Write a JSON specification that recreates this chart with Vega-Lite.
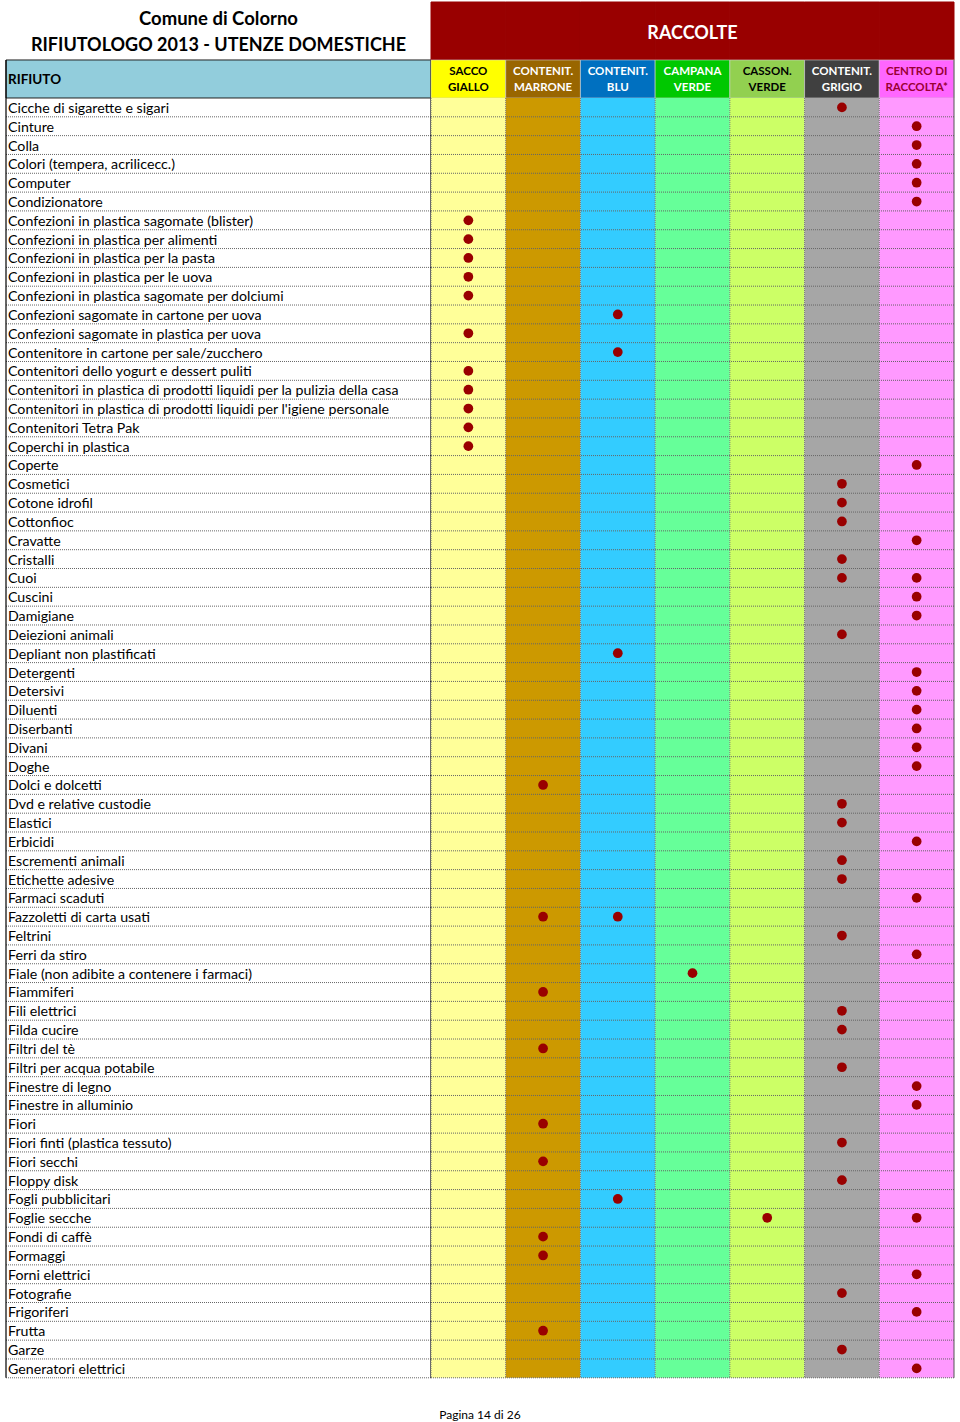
{
  "$schema": "https://vega.github.io/schema/vega-lite/v6.json",
  "padding": {"left": 5, "right": 7, "top": 0, "bottom": 0},
  "spacing": 0,
  "bounds": "flush",
  "background": "white",
  "config": {"view": {"stroke": null}, "font": "Lato"},
  "title": {"text": "Pagina 14 di 26", "orient": "bottom", "anchor": "middle", "frame": "bounds", "fontSize": 12, "fontWeight": "normal", "font": "Lato", "color": "#000", "offset": 26},
  "datasets": {
    "cols": [
      {"raccolta": "SACCO GIALLO", "righe": ["SACCO", "GIALLO"]},
      {"raccolta": "CONTENIT. MARRONE", "righe": ["CONTENIT.", "MARRONE"]},
      {"raccolta": "CONTENIT. BLU", "righe": ["CONTENIT.", "BLU"]},
      {"raccolta": "CAMPANA VERDE", "righe": ["CAMPANA", "VERDE"]},
      {"raccolta": "CASSON. VERDE", "righe": ["CASSON.", "VERDE"]},
      {"raccolta": "CONTENIT. GRIGIO", "righe": ["CONTENIT.", "GRIGIO"]},
      {"raccolta": "CENTRO DI RACCOLTA*", "righe": ["CENTRO DI", "RACCOLTA*"]}
    ],
    "items": [
      {"n": 1, "rifiuto": "Cicche di sigarette e sigari", "raccolte": ["CONTENIT. GRIGIO"]},
      {"n": 2, "rifiuto": "Cinture", "raccolte": ["CENTRO DI RACCOLTA*"]},
      {"n": 3, "rifiuto": "Colla", "raccolte": ["CENTRO DI RACCOLTA*"]},
      {"n": 4, "rifiuto": "Colori (tempera, acrilicecc.)", "raccolte": ["CENTRO DI RACCOLTA*"]},
      {"n": 5, "rifiuto": "Computer", "raccolte": ["CENTRO DI RACCOLTA*"]},
      {"n": 6, "rifiuto": "Condizionatore", "raccolte": ["CENTRO DI RACCOLTA*"]},
      {"n": 7, "rifiuto": "Confezioni in plastica sagomate (blister)", "raccolte": ["SACCO GIALLO"]},
      {"n": 8, "rifiuto": "Confezioni in plastica per alimenti", "raccolte": ["SACCO GIALLO"]},
      {"n": 9, "rifiuto": "Confezioni in plastica per la pasta", "raccolte": ["SACCO GIALLO"]},
      {"n": 10, "rifiuto": "Confezioni in plastica per le uova", "raccolte": ["SACCO GIALLO"]},
      {"n": 11, "rifiuto": "Confezioni in plastica sagomate per dolciumi", "raccolte": ["SACCO GIALLO"]},
      {"n": 12, "rifiuto": "Confezioni sagomate in cartone per uova", "raccolte": ["CONTENIT. BLU"]},
      {"n": 13, "rifiuto": "Confezioni sagomate in plastica per uova", "raccolte": ["SACCO GIALLO"]},
      {"n": 14, "rifiuto": "Contenitore in cartone per sale/zucchero", "raccolte": ["CONTENIT. BLU"]},
      {"n": 15, "rifiuto": "Contenitori dello yogurt e dessert puliti", "raccolte": ["SACCO GIALLO"]},
      {"n": 16, "rifiuto": "Contenitori in plastica di prodotti liquidi per la pulizia della casa", "raccolte": ["SACCO GIALLO"]},
      {"n": 17, "rifiuto": "Contenitori in plastica di prodotti liquidi per l'igiene personale", "raccolte": ["SACCO GIALLO"]},
      {"n": 18, "rifiuto": "Contenitori Tetra Pak", "raccolte": ["SACCO GIALLO"]},
      {"n": 19, "rifiuto": "Coperchi in plastica", "raccolte": ["SACCO GIALLO"]},
      {"n": 20, "rifiuto": "Coperte", "raccolte": ["CENTRO DI RACCOLTA*"]},
      {"n": 21, "rifiuto": "Cosmetici", "raccolte": ["CONTENIT. GRIGIO"]},
      {"n": 22, "rifiuto": "Cotone idrofil", "raccolte": ["CONTENIT. GRIGIO"]},
      {"n": 23, "rifiuto": "Cottonfioc", "raccolte": ["CONTENIT. GRIGIO"]},
      {"n": 24, "rifiuto": "Cravatte", "raccolte": ["CENTRO DI RACCOLTA*"]},
      {"n": 25, "rifiuto": "Cristalli", "raccolte": ["CONTENIT. GRIGIO"]},
      {"n": 26, "rifiuto": "Cuoi", "raccolte": ["CONTENIT. GRIGIO", "CENTRO DI RACCOLTA*"]},
      {"n": 27, "rifiuto": "Cuscini", "raccolte": ["CENTRO DI RACCOLTA*"]},
      {"n": 28, "rifiuto": "Damigiane", "raccolte": ["CENTRO DI RACCOLTA*"]},
      {"n": 29, "rifiuto": "Deiezioni animali", "raccolte": ["CONTENIT. GRIGIO"]},
      {"n": 30, "rifiuto": "Depliant non plastificati", "raccolte": ["CONTENIT. BLU"]},
      {"n": 31, "rifiuto": "Detergenti", "raccolte": ["CENTRO DI RACCOLTA*"]},
      {"n": 32, "rifiuto": "Detersivi", "raccolte": ["CENTRO DI RACCOLTA*"]},
      {"n": 33, "rifiuto": "Diluenti", "raccolte": ["CENTRO DI RACCOLTA*"]},
      {"n": 34, "rifiuto": "Diserbanti", "raccolte": ["CENTRO DI RACCOLTA*"]},
      {"n": 35, "rifiuto": "Divani", "raccolte": ["CENTRO DI RACCOLTA*"]},
      {"n": 36, "rifiuto": "Doghe", "raccolte": ["CENTRO DI RACCOLTA*"]},
      {"n": 37, "rifiuto": "Dolci e dolcetti", "raccolte": ["CONTENIT. MARRONE"]},
      {"n": 38, "rifiuto": "Dvd e relative custodie", "raccolte": ["CONTENIT. GRIGIO"]},
      {"n": 39, "rifiuto": "Elastici", "raccolte": ["CONTENIT. GRIGIO"]},
      {"n": 40, "rifiuto": "Erbicidi", "raccolte": ["CENTRO DI RACCOLTA*"]},
      {"n": 41, "rifiuto": "Escrementi animali", "raccolte": ["CONTENIT. GRIGIO"]},
      {"n": 42, "rifiuto": "Etichette adesive", "raccolte": ["CONTENIT. GRIGIO"]},
      {"n": 43, "rifiuto": "Farmaci scaduti", "raccolte": ["CENTRO DI RACCOLTA*"]},
      {"n": 44, "rifiuto": "Fazzoletti di carta usati", "raccolte": ["CONTENIT. MARRONE", "CONTENIT. BLU"]},
      {"n": 45, "rifiuto": "Feltrini", "raccolte": ["CONTENIT. GRIGIO"]},
      {"n": 46, "rifiuto": "Ferri da stiro", "raccolte": ["CENTRO DI RACCOLTA*"]},
      {"n": 47, "rifiuto": "Fiale (non adibite a contenere i farmaci)", "raccolte": ["CAMPANA VERDE"]},
      {"n": 48, "rifiuto": "Fiammiferi", "raccolte": ["CONTENIT. MARRONE"]},
      {"n": 49, "rifiuto": "Fili elettrici", "raccolte": ["CONTENIT. GRIGIO"]},
      {"n": 50, "rifiuto": "Filda cucire", "raccolte": ["CONTENIT. GRIGIO"]},
      {"n": 51, "rifiuto": "Filtri del tè", "raccolte": ["CONTENIT. MARRONE"]},
      {"n": 52, "rifiuto": "Filtri per acqua potabile", "raccolte": ["CONTENIT. GRIGIO"]},
      {"n": 53, "rifiuto": "Finestre di legno", "raccolte": ["CENTRO DI RACCOLTA*"]},
      {"n": 54, "rifiuto": "Finestre in alluminio", "raccolte": ["CENTRO DI RACCOLTA*"]},
      {"n": 55, "rifiuto": "Fiori", "raccolte": ["CONTENIT. MARRONE"]},
      {"n": 56, "rifiuto": "Fiori finti (plastica tessuto)", "raccolte": ["CONTENIT. GRIGIO"]},
      {"n": 57, "rifiuto": "Fiori secchi", "raccolte": ["CONTENIT. MARRONE"]},
      {"n": 58, "rifiuto": "Floppy disk", "raccolte": ["CONTENIT. GRIGIO"]},
      {"n": 59, "rifiuto": "Fogli pubblicitari", "raccolte": ["CONTENIT. BLU"]},
      {"n": 60, "rifiuto": "Foglie secche", "raccolte": ["CASSON. VERDE", "CENTRO DI RACCOLTA*"]},
      {"n": 61, "rifiuto": "Fondi di caffè", "raccolte": ["CONTENIT. MARRONE"]},
      {"n": 62, "rifiuto": "Formaggi", "raccolte": ["CONTENIT. MARRONE"]},
      {"n": 63, "rifiuto": "Forni elettrici", "raccolte": ["CENTRO DI RACCOLTA*"]},
      {"n": 64, "rifiuto": "Fotografie", "raccolte": ["CONTENIT. GRIGIO"]},
      {"n": 65, "rifiuto": "Frigoriferi", "raccolte": ["CENTRO DI RACCOLTA*"]},
      {"n": 66, "rifiuto": "Frutta", "raccolte": ["CONTENIT. MARRONE"]},
      {"n": 67, "rifiuto": "Garze", "raccolte": ["CONTENIT. GRIGIO"]},
      {"n": 68, "rifiuto": "Generatori elettrici", "raccolte": ["CENTRO DI RACCOLTA*"]}
    ]
  },
  "hconcat": [
    {
      "width": 425,
      "height": 1384,
      "encoding": {
        "x": {"datum": "RIFIUTO", "type": "nominal", "scale": {"type": "band", "domain": ["RIFIUTO"], "paddingInner": 0, "paddingOuter": 0}, "axis": null}
      },
      "layer": [
        {
          "data": {"values": [{"cella": "RIFIUTO"}]},
          "mark": {"type": "rect", "fill": "#92CDDC", "stroke": "#222222", "strokeWidth": 1},
          "encoding": {
            "y": {"datum": -1.52, "type": "quantitative", "scale": {"domain": [-4.707, 68.83], "reverse": true, "zero": false, "nice": false}, "axis": null},
            "y2": {"datum": 0.5}
          }
        },
        {
          "data": {"values": [{"cella": "RIFIUTO"}]},
          "mark": {"type": "text", "align": "left", "baseline": "middle", "dx": 2, "dy": 1, "fontSize": 13.5, "fontWeight": "bold", "color": "#000000"},
          "encoding": {
            "x": {"datum": "RIFIUTO", "type": "nominal", "bandPosition": 0, "scale": {"type": "band", "domain": ["RIFIUTO"], "paddingInner": 0, "paddingOuter": 0}, "axis": null},
            "y": {"datum": -0.51, "type": "quantitative", "scale": {"domain": [-4.707, 68.83], "reverse": true, "zero": false, "nice": false}, "axis": null},
            "text": {"field": "cella"}
          }
        },
        {
          "data": {"values": [{"riga": "Comune di Colorno"}]},
          "mark": {"type": "text", "align": "center", "baseline": "middle", "dy": 1, "fontSize": 18.5, "fontWeight": "bold", "color": "#000000"},
          "encoding": {
            "y": {"datum": -3.75, "type": "quantitative", "scale": {"domain": [-4.707, 68.83], "reverse": true, "zero": false, "nice": false}, "axis": null},
            "text": {"field": "riga"}
          }
        },
        {
          "data": {"values": [{"riga": "RIFIUTOLOGO 2013  - UTENZE DOMESTICHE"}]},
          "mark": {"type": "text", "align": "center", "baseline": "middle", "dy": 1, "fontSize": 18, "fontWeight": "bold", "color": "#000000"},
          "encoding": {
            "y": {"datum": -2.32, "type": "quantitative", "scale": {"domain": [-4.707, 68.83], "reverse": true, "zero": false, "nice": false}, "axis": null},
            "text": {"field": "riga"}
          }
        },
        {
          "data": {"name": "items"},
          "mark": {"type": "rule", "color": "#666666", "strokeDash": [1, 1], "strokeWidth": 1, "yOffset": 9.41},
          "encoding": {
            "x": null,
            "y": {"field": "n", "type": "quantitative", "scale": {"domain": [-4.707, 68.83], "reverse": true, "zero": false, "nice": false}, "axis": null}
          }
        },
        {
          "data": {"name": "items"},
          "mark": {"type": "text", "align": "left", "baseline": "middle", "dx": 2, "dy": 1.5, "fontSize": 14.2, "color": "#000000"},
          "encoding": {
            "x": {"datum": "RIFIUTO", "type": "nominal", "bandPosition": 0, "scale": {"type": "band", "domain": ["RIFIUTO"], "paddingInner": 0, "paddingOuter": 0}, "axis": null},
            "y": {"field": "n", "type": "quantitative", "scale": {"domain": [-4.707, 68.83], "reverse": true, "zero": false, "nice": false}, "axis": null},
            "text": {"field": "rifiuto"}
          }
        },
        {
          "data": {"values": [{"bordo": "sinistro"}]},
          "mark": {"type": "rule", "color": "#000000", "strokeWidth": 1.2},
          "encoding": {
            "x": {"datum": "RIFIUTO", "type": "nominal", "bandPosition": 0, "scale": {"type": "band", "domain": ["RIFIUTO"], "paddingInner": 0, "paddingOuter": 0}, "axis": null},
            "y": {"datum": -1.52, "type": "quantitative", "scale": {"domain": [-4.707, 68.83], "reverse": true, "zero": false, "nice": false}, "axis": null},
            "y2": {"datum": 68.5}
          }
        },
        {
          "data": {"values": [{"bordo": "destro"}]},
          "mark": {"type": "rule", "color": "#000000", "strokeWidth": 1.2},
          "encoding": {
            "x": {"datum": "RIFIUTO", "type": "nominal", "bandPosition": 1, "scale": {"type": "band", "domain": ["RIFIUTO"], "paddingInner": 0, "paddingOuter": 0}, "axis": null},
            "y": {"datum": -1.52, "type": "quantitative", "scale": {"domain": [-4.707, 68.83], "reverse": true, "zero": false, "nice": false}, "axis": null},
            "y2": {"datum": 68.5}
          }
        }
      ]
    },
    {
      "width": 523,
      "height": 1384,
      "encoding": {
        "x": {"field": "raccolta", "type": "nominal", "scale": {"type": "band", "domain": ["SACCO GIALLO", "CONTENIT. MARRONE", "CONTENIT. BLU", "CAMPANA VERDE", "CASSON. VERDE", "CONTENIT. GRIGIO", "CENTRO DI RACCOLTA*"], "paddingInner": 0, "paddingOuter": 0}, "axis": null}
      },
      "layer": [
        {
          "data": {"name": "cols"},
          "mark": {"type": "rect", "fill": "#990000", "stroke": "#990000", "strokeWidth": 1},
          "encoding": {
            "y": {"datum": -4.6, "type": "quantitative", "scale": {"domain": [-4.707, 68.83], "reverse": true, "zero": false, "nice": false}, "axis": null},
            "y2": {"datum": -1.52}
          }
        },
        {
          "data": {"values": [{"testo": "RACCOLTE"}]},
          "mark": {"type": "text", "align": "center", "baseline": "middle", "dy": 1, "fontSize": 18, "fontWeight": "bold", "color": "#FFFFFF"},
          "encoding": {
            "x": {"datum": "CAMPANA VERDE", "type": "nominal", "scale": {"type": "band", "domain": ["SACCO GIALLO", "CONTENIT. MARRONE", "CONTENIT. BLU", "CAMPANA VERDE", "CASSON. VERDE", "CONTENIT. GRIGIO", "CENTRO DI RACCOLTA*"], "paddingInner": 0, "paddingOuter": 0}, "axis": null},
            "y": {"datum": -2.98, "type": "quantitative", "scale": {"domain": [-4.707, 68.83], "reverse": true, "zero": false, "nice": false}, "axis": null},
            "text": {"field": "testo"}
          }
        },
        {
          "data": {"name": "cols"},
          "mark": {"type": "rect", "stroke": "#D0D0D0", "strokeWidth": 0.6},
          "encoding": {
            "y": {"datum": -1.52, "type": "quantitative", "scale": {"domain": [-4.707, 68.83], "reverse": true, "zero": false, "nice": false}, "axis": null},
            "y2": {"datum": 0.5},
            "color": {"field": "raccolta", "type": "nominal", "legend": null,
              "scale": {"domain": ["SACCO GIALLO", "CONTENIT. MARRONE", "CONTENIT. BLU", "CAMPANA VERDE", "CASSON. VERDE", "CONTENIT. GRIGIO", "CENTRO DI RACCOLTA*"], "range": ["#FFFF00", "#996600", "#0070C0", "#00C800", "#92D050", "#404040", "#FF66FF"]}}
          }
        },
        {
          "data": {"name": "cols"},
          "mark": {"type": "rect"},
          "encoding": {
            "y": {"datum": 0.5, "type": "quantitative", "scale": {"domain": [-4.707, 68.83], "reverse": true, "zero": false, "nice": false}, "axis": null},
            "y2": {"datum": 68.5},
            "color": {"field": "raccolta", "type": "nominal", "legend": null,
              "scale": {"domain": ["SACCO GIALLO", "CONTENIT. MARRONE", "CONTENIT. BLU", "CAMPANA VERDE", "CASSON. VERDE", "CONTENIT. GRIGIO", "CENTRO DI RACCOLTA*"], "range": ["#FFFF99", "#CC9900", "#33CCFF", "#66FF99", "#CCFF66", "#A6A6A6", "#FF99FF"]}}
          }
        },
        {
          "data": {"name": "cols"},
          "mark": {"type": "text", "align": "center", "baseline": "middle", "dy": 1, "fontSize": 11.5, "fontWeight": "bold", "lineHeight": 16.5},
          "encoding": {
            "y": {"datum": -0.935, "type": "quantitative", "scale": {"domain": [-4.707, 68.83], "reverse": true, "zero": false, "nice": false}, "axis": null},
            "text": {"field": "righe"},
            "color": {"field": "raccolta", "type": "nominal", "legend": null,
              "scale": {"domain": ["SACCO GIALLO", "CONTENIT. MARRONE", "CONTENIT. BLU", "CAMPANA VERDE", "CASSON. VERDE", "CONTENIT. GRIGIO", "CENTRO DI RACCOLTA*"], "range": ["#000000", "#FFFFFF", "#FFFFFF", "#FFFFFF", "#000000", "#FFFFFF", "#990033"]}}
          }
        },
        {
          "data": {"name": "cols"},
          "mark": {"type": "rule", "color": "#777777", "strokeDash": [1, 1], "strokeWidth": 1},
          "encoding": {
            "x": {"field": "raccolta", "type": "nominal", "bandPosition": 0, "scale": {"type": "band", "domain": ["SACCO GIALLO", "CONTENIT. MARRONE", "CONTENIT. BLU", "CAMPANA VERDE", "CASSON. VERDE", "CONTENIT. GRIGIO", "CENTRO DI RACCOLTA*"], "paddingInner": 0, "paddingOuter": 0}, "axis": null},
            "y": {"datum": 0.5, "type": "quantitative", "scale": {"domain": [-4.707, 68.83], "reverse": true, "zero": false, "nice": false}, "axis": null},
            "y2": {"datum": 68.5}
          }
        },
        {
          "data": {"name": "items"},
          "mark": {"type": "rule", "color": "#666666", "strokeDash": [1, 1], "strokeWidth": 1, "yOffset": 9.41},
          "encoding": {
            "x": null,
            "y": {"field": "n", "type": "quantitative", "scale": {"domain": [-4.707, 68.83], "reverse": true, "zero": false, "nice": false}, "axis": null}
          }
        },
        {
          "data": {"values": [{"raccolta": "CENTRO DI RACCOLTA*"}]},
          "mark": {"type": "rule", "color": "#555555", "strokeWidth": 1},
          "encoding": {
            "x": {"field": "raccolta", "type": "nominal", "bandPosition": 1, "scale": {"type": "band", "domain": ["SACCO GIALLO", "CONTENIT. MARRONE", "CONTENIT. BLU", "CAMPANA VERDE", "CASSON. VERDE", "CONTENIT. GRIGIO", "CENTRO DI RACCOLTA*"], "paddingInner": 0, "paddingOuter": 0}, "axis": null},
            "y": {"datum": -1.52, "type": "quantitative", "scale": {"domain": [-4.707, 68.83], "reverse": true, "zero": false, "nice": false}, "axis": null},
            "y2": {"datum": 68.5}
          }
        },
        {
          "data": {"name": "items"},
          "transform": [{"flatten": ["raccolte"], "as": ["raccolta"]}],
          "mark": {"type": "circle", "size": 95, "color": "#990000", "opacity": 1},
          "encoding": {
            "y": {"field": "n", "type": "quantitative", "scale": {"domain": [-4.707, 68.83], "reverse": true, "zero": false, "nice": false}, "axis": null},
            "tooltip": [{"field": "rifiuto"}, {"field": "raccolta"}]
          }
        }
      ],
      "resolve": {"scale": {"color": "independent"}}
    }
  ]
}
